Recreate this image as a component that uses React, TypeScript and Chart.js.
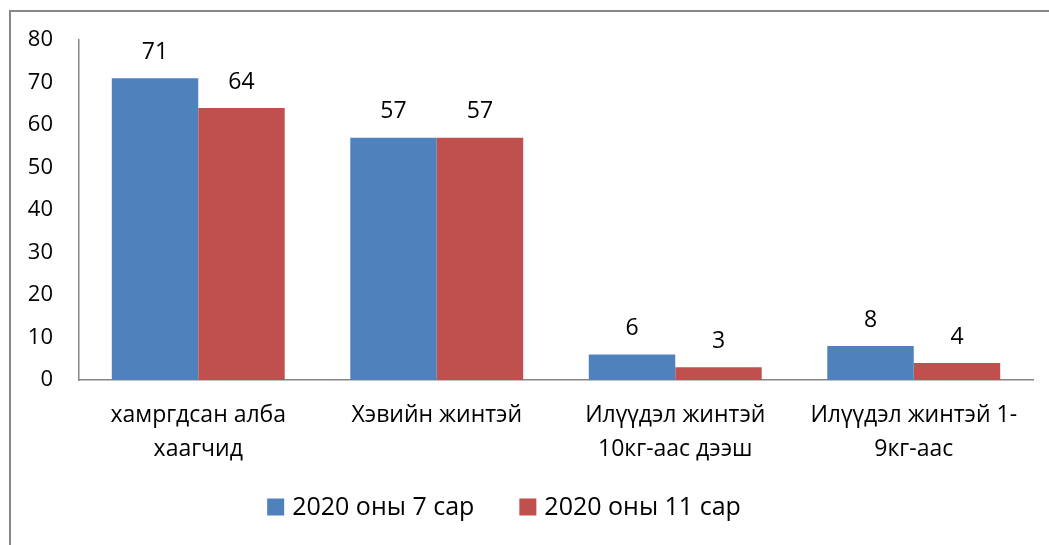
import { useEffect, useRef } from "react";
import { Chart, registerables } from "chart.js";

Chart.register(...registerables);

const categories: string[][] = [
  ["хамргдсан алба", "хаагчид"],
  ["Хэвийн жинтэй"],
  ["Илүүдэл жинтэй", "10кг-аас дээш"],
  ["Илүүдэл жинтэй 1-", "9кг-аас"],
];
const seriesLabels = ["2020 оны 7 сар", "2020 оны 11 сар"];
const series1 = [71, 57, 6, 8];
const series2 = [64, 57, 3, 4];
const seriesColors = ["#4F81BD", "#C0504D"];
const yMin = 0;
const yMax = 80;
const yStep = 10;

const FONT = "'Open Sans', 'Noto Sans', sans-serif";

const framePlugin = {
  id: "frame",
  beforeDraw(chart: any) {
    const ctx = chart.ctx;
    ctx.save();
    ctx.fillStyle = "#ffffff";
    ctx.fillRect(0, 0, chart.width, chart.height);
    ctx.strokeStyle = "#878787";
    ctx.lineWidth = 2;
    ctx.beginPath();
    ctx.moveTo(10, chart.height);
    ctx.lineTo(10, 11);
    ctx.lineTo(chart.width, 11);
    ctx.stroke();
    ctx.restore();
  },
};

const valueLabelPlugin = {
  id: "valueLabels",
  afterDatasetsDraw(chart: any) {
    const ctx = chart.ctx;
    ctx.save();
    ctx.fillStyle = "#000000";
    ctx.font = `23px ${FONT}`;
    ctx.textAlign = "center";
    ctx.textBaseline = "middle";
    chart.data.datasets.forEach((ds: any, di: number) => {
      const meta = chart.getDatasetMeta(di);
      meta.data.forEach((el: any, i: number) => {
        ctx.fillText(String(ds.data[i]), el.x, el.y - 26);
      });
    });
    ctx.restore();
  },
};

const legendPlugin = {
  id: "customLegend",
  afterDraw(chart: any) {
    const ctx = chart.ctx;
    ctx.save();
    ctx.font = `25px ${FONT}`;
    ctx.textBaseline = "middle";
    ctx.textAlign = "left";
    const box = 17;
    const gap = 8;
    const itemGap = 45;
    const items = chart.data.datasets.map((ds: any) => ({
      text: ds.label,
      color: ds.backgroundColor,
      w: ctx.measureText(ds.label).width,
    }));
    const total =
      items.reduce((s: number, it: any) => s + box + gap + it.w, 0) +
      itemGap * (items.length - 1);
    let x = 504 - total / 2;
    const cy = 507;
    items.forEach((it: any) => {
      ctx.fillStyle = it.color;
      ctx.fillRect(x, cy - box / 2, box, box);
      x += box + gap;
      ctx.fillStyle = "#000000";
      ctx.fillText(it.text, x, cy + 1);
      x += it.w + itemGap;
    });
    ctx.restore();
  },
};

export default function App() {
  const ref = useRef<HTMLCanvasElement | null>(null);

  useEffect(() => {
    if (!ref.current) return;
    const chart = new Chart(ref.current, {
      type: "bar",
      data: {
        labels: categories,
        datasets: [
          {
            label: seriesLabels[0],
            data: series1,
            backgroundColor: seriesColors[0],
            categoryPercentage: 0.725,
            barPercentage: 1,
          },
          {
            label: seriesLabels[1],
            data: series2,
            backgroundColor: seriesColors[1],
            categoryPercentage: 0.725,
            barPercentage: 1,
          },
        ],
      },
      options: {
        responsive: false,
        animation: false,
        devicePixelRatio: 1,
        layout: { padding: { left: 0, right: 16, top: 40, bottom: 0 } },
        plugins: {
          legend: { display: false },
          tooltip: { enabled: false },
        },
        scales: {
          x: {
            grid: { display: false, drawTicks: false },
            border: { display: true, color: "#868686", width: 1.5 },
            ticks: {
              color: "#000000",
              padding: 18,
              maxRotation: 0,
              autoSkip: false,
              font: { family: FONT, size: 23, lineHeight: "34px" as any },
            },
            afterFit(scale: any) {
              scale.height = 165;
            },
          },
          y: {
            min: yMin,
            max: yMax,
            grid: { display: false, drawTicks: false },
            border: { display: true, color: "#868686", width: 1.5 },
            ticks: {
              stepSize: yStep,
              color: "#000000",
              padding: 26,
              font: { family: FONT, size: 22 },
            },
            afterFit(scale: any) {
              scale.width = 79;
            },
          },
        },
      },
      plugins: [framePlugin, valueLabelPlugin, legendPlugin],
    });
    return () => chart.destroy();
  }, []);

  return (
    <div style={{ position: "fixed", left: 0, top: 0, width: 1049, height: 545, background: "#fff" }}>
      <canvas ref={ref} width={1049} height={545} style={{ display: "block" }} />
    </div>
  );
}
